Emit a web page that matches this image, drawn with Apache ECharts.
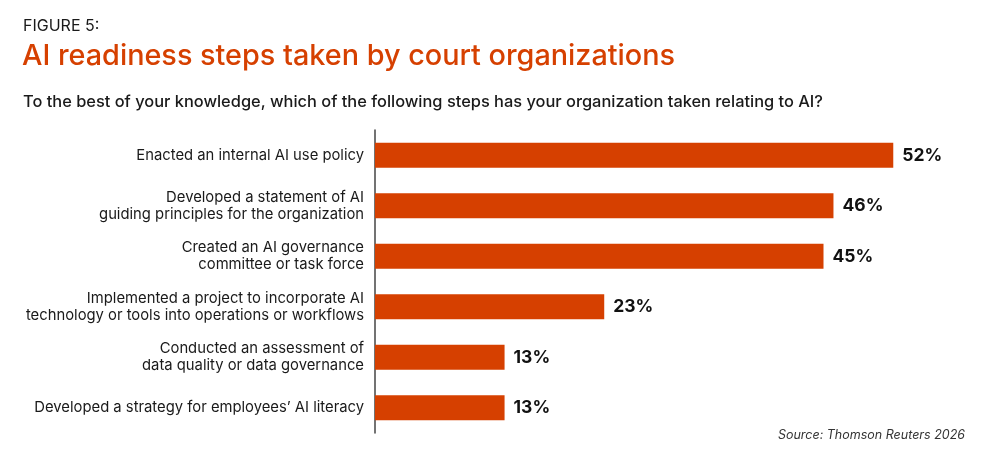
<!DOCTYPE html>
<html>
<head>
<meta charset="utf-8">
<script src="https://cdn.jsdelivr.net/npm/echarts@6/dist/echarts.min.js"></script>
<style>html,body{margin:0;padding:0;background:#fff}#c{width:1000px;height:469px}</style>
</head>
<body>
<div id="c"></div>
<script>
const categories = [
  "Enacted an internal AI use policy",
  "Developed a statement of AI\nguiding principles for the organization",
  "Created an AI governance\ncommittee or task force",
  "Implemented a project to incorporate AI\ntechnology or tools into operations or workflows",
  "Conducted an assessment of\ndata quality or data governance",
  "Developed a strategy for employees\u2019 AI literacy"
];
const values = [52, 46, 45, 23, 13, 13];
const figureLabel = "FIGURE 5:";
const titleText = "AI readiness steps taken by court organizations";
const subtitleText = "To the best of your knowledge, which of the following steps has your organization taken relating to AI?";
const sourceText = "Source: Thomson Reuters 2026";

const chart = echarts.init(document.getElementById('c'));
const FONT = 'Inter, "Noto Sans", sans-serif';
chart.setOption({
  animation: false,
  backgroundColor: '#fff',
  graphic: [
    {type:'text', left:23, top:18, style:{text:figureLabel, font:'400 16px ' + FONT, fill:'#1a1a1a'}},
    {type:'text', left:22, top:42, style:{text:titleText, font:'500 28.8px ' + FONT, fill:'#D64000'}},
    {type:'text', left:23, top:94, style:{text:subtitleText, font:'500 16.4px ' + FONT, fill:'#1a1a1a'}},
    {type:'text', right:35, top:429, style:{text:sourceText, font:'italic 400 12.5px ' + FONT, fill:'#333'}}
  ],
  grid: {left:375, top:130, width:598, height:303},
  xAxis: {type:'value', min:0, max:60, show:false},
  yAxis: {
    type:'category', data:categories, inverse:true,
    axisLine:{show:true, lineStyle:{color:'#444', width:1.5}},
    axisTick:{show:false},
    axisLabel:{margin:11, fontFamily:FONT, fontSize:14.8, color:'#1a1a1a', lineHeight:17, align:'right'}
  },
  series: [{
    type:'bar', data:values, barWidth:25,
    itemStyle:{color:'#D64000'},
    label:{show:true, position:'right', distance:9, formatter:'{c}%', fontFamily:FONT, fontSize:17.5, fontWeight:700, color:'#111'}
  }]
});
</script>
</body>
</html>
